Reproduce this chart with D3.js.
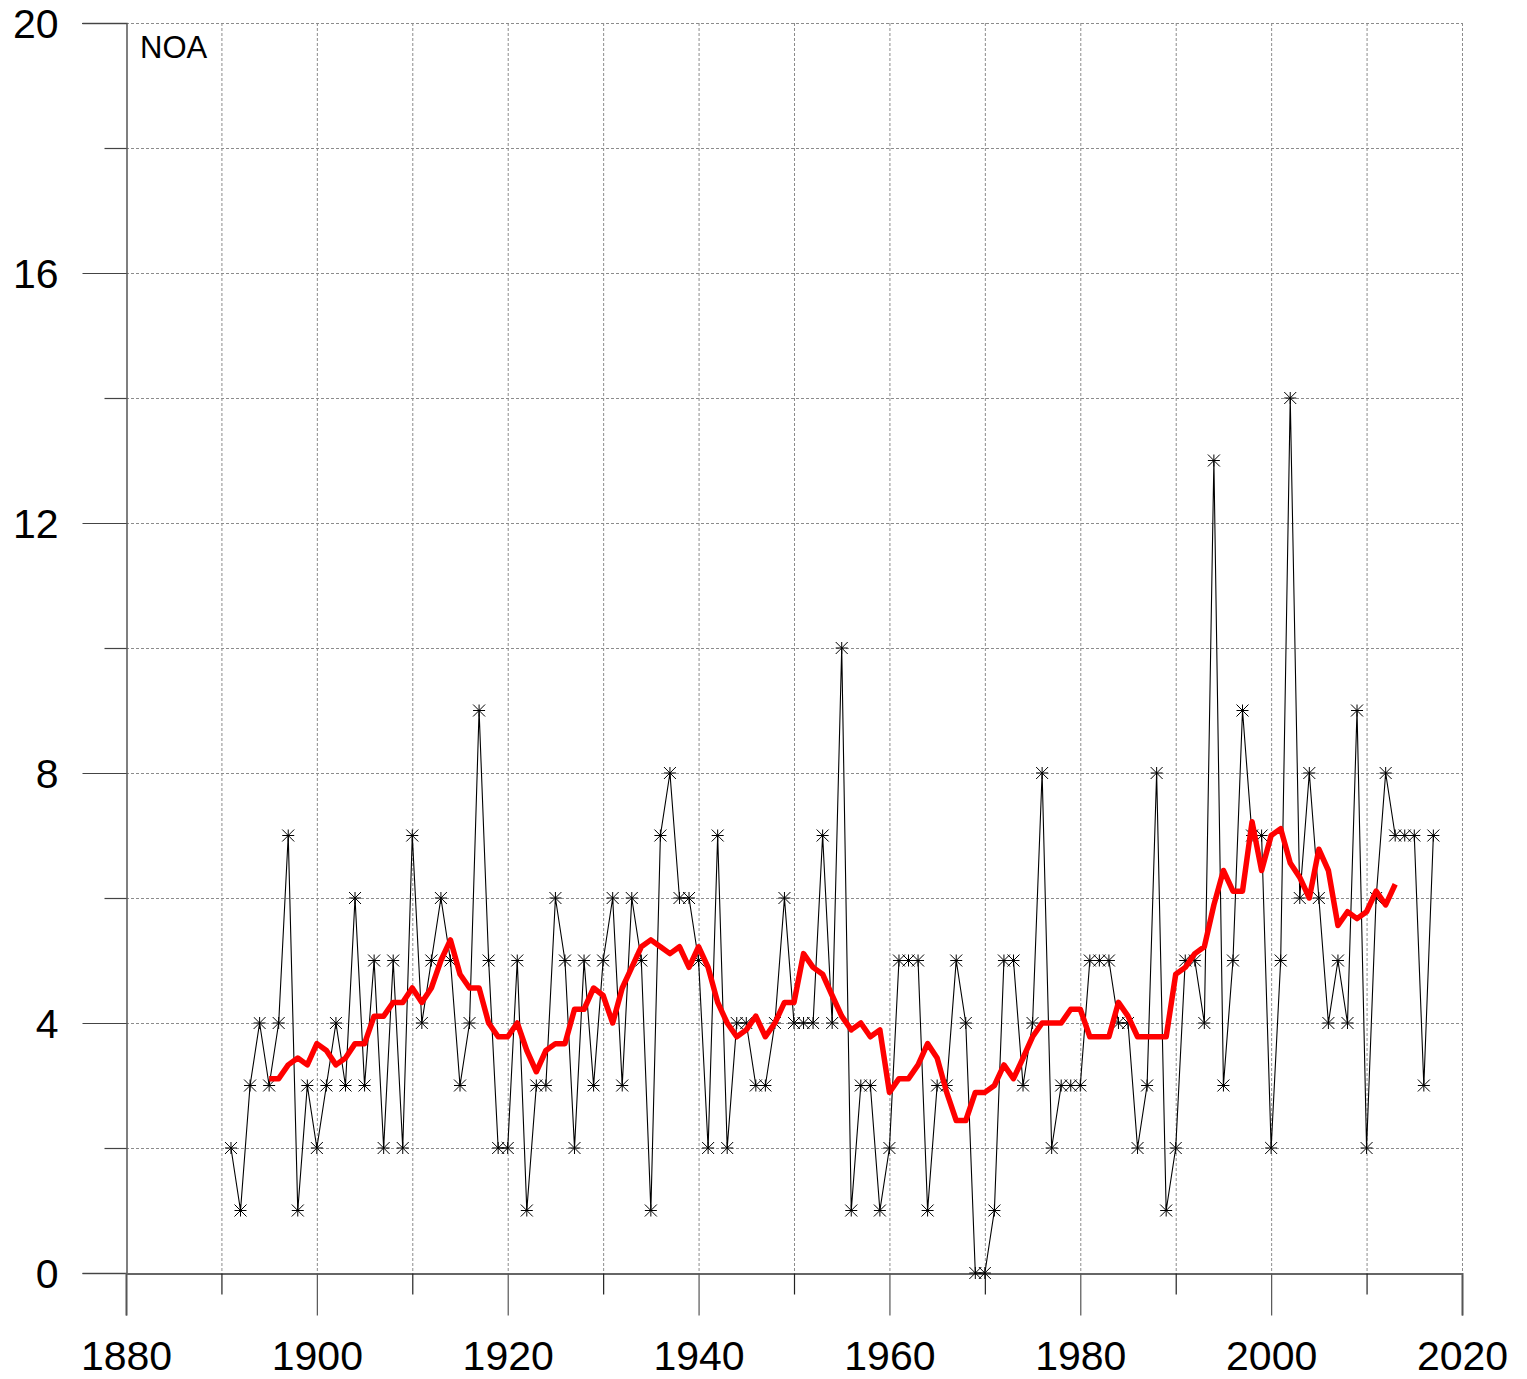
<!DOCTYPE html>
<html>
<head>
<meta charset="utf-8">
<script src="https://d3js.org/d3.v7.min.js"></script>
<style>
  body { margin: 0; background: #fff; }
  svg text { font-family: "Liberation Sans", Arial, sans-serif; fill: #000; }
</style>
</head>
<body>
<div id="chart"></div>
<script>
// Data
var startYear = 1891;
var counts = [2,1,3,4,3,4,7,1,3,2, 3,4,3,6,3,5,2,5,2,7, 4,5,6,5,3,4,9,5,2,2,
	5,1,3,3,6,5,2,5,3,5, 6,3,6,5,1,7,8,6,6,5, 2,7,2,4,4,3,3,4,6,4,
	4,4,7,4,10,1,3,3,1,2, 5,5,5,1,3,3,5,4,0,0, 1,5,5,3,4,8,2,3,3,3,
	5,5,5,4,4,2,3,8,1,2, 5,5,4,13,3,5,9,7,7,2, 5,14,6,8,6,4,5,4,9,2,
	6,8,7,7,7,3,7];

var meanStart = 1895;
var mean9 = [3.11,3.11,3.33,3.44,3.33,3.67,3.56,3.33,3.44,3.67,
	3.67,4.11,4.11,4.33,4.33,4.56,4.33,4.56,5.00,5.33,
	4.78,4.56,4.56,4.00,3.78,3.78,4.00,3.56,3.22,3.56,
	3.67,3.67,4.22,4.22,4.56,4.44,4.00,4.56,4.89,5.22,
	5.33,5.22,5.11,5.22,4.89,5.22,4.89,4.33,4.00,3.78,
	3.89,4.11,3.78,4.00,4.33,4.33,5.11,4.89,4.78,4.44,
	4.11,3.89,4.00,3.78,3.89,2.89,3.11,3.11,3.33,3.67,
	3.44,2.89,2.44,2.44,2.89,2.89,3.00,3.33,3.11,3.44,
	3.78,4.00,4.00,4.00,4.22,4.22,3.78,3.78,3.78,4.33,
	4.11,3.78,3.78,3.78,3.78,4.78,4.89,5.11,5.22,5.89,
	6.44,6.11,6.11,7.22,6.44,7.00,7.11,6.56,6.33,6.00,
	6.78,6.44,5.56,5.78,5.67,5.78,6.11,5.89,6.22];

var xLabels = [1880,1900,1920,1940,1960,1980,2000,2020];
var yLabels = [0,4,8,12,16,20];
var seriesName = "NOA";

// Globals
var width = 1527;
var height = 1379;
var svg = d3.select("#chart")
	.append("svg")
	.attr("width", width)
	.attr("height", height);

var x = d3.scaleLinear().domain([1880, 2020]).range([126, 1462]);
var y = d3.scaleLinear().domain([0, 20]).range([1273, 23]);

var pts = counts.map(function(v, i) { return {yr: startYear + i, v: v}; });
var avg = mean9.map(function(v, i) { return {yr: meanStart + i, v: v}; });

// grid
var grid = svg.append("g")
	.attr("stroke", "#8c8c8c")
	.attr("stroke-width", 1)
	.attr("stroke-dasharray", "3,2");

grid.selectAll(".gx")
	.data(d3.range(1890, 2021, 10))
	.enter().append("line")
		.attr("x1", function(d) { return x(d) + 0.5; })
		.attr("x2", function(d) { return x(d) + 0.5; })
		.attr("y1", y(20))
		.attr("y2", y(0));

grid.selectAll(".gy")
	.data(d3.range(2, 21, 2))
	.enter().append("line")
		.attr("x1", x(1880))
		.attr("x2", x(2020))
		.attr("y1", function(d) { return y(d) + 0.5; })
		.attr("y2", function(d) { return y(d) + 0.5; });

// axes
var yAxis = d3.axisLeft(y)
	.tickValues(yLabels)
	.tickSize(44)
	.tickPadding(24)
	.tickFormat(d3.format("d"));

var gy = svg.append("g")
	.attr("transform", "translate(126.5,0)")
	.call(yAxis);
gy.select(".domain").attr("stroke", "#555").attr("stroke-width", 1.5);
gy.selectAll(".tick line").attr("stroke", "#444").attr("stroke-width", 1.2);
gy.selectAll(".tick text").attr("font-size", 41).attr("dy", "0.36em");

gy.selectAll(".minor")
	.data(d3.range(2, 20, 4))
	.enter().append("line")
		.attr("x1", -22)
		.attr("x2", 0)
		.attr("y1", function(d) { return y(d) + 0.5; })
		.attr("y2", function(d) { return y(d) + 0.5; })
		.attr("stroke", "#444")
		.attr("stroke-width", 1.2);

var xAxis = d3.axisBottom(x)
	.tickValues(xLabels)
	.tickSize(42)
	.tickPadding(25)
	.tickFormat(d3.format("d"));

var gx = svg.append("g")
	.attr("transform", "translate(0,1273.5)")
	.call(xAxis);
gx.select(".domain").attr("stroke", "#666").attr("stroke-width", 2);
gx.selectAll(".tick line").attr("stroke", "#555").attr("stroke-width", 1.2);
gx.selectAll(".tick text").attr("font-size", 41);

gx.selectAll(".minor")
	.data(d3.range(1890, 2020, 20))
	.enter().append("line")
		.attr("x1", function(d) { return x(d) + 0.5; })
		.attr("x2", function(d) { return x(d) + 0.5; })
		.attr("y1", 0)
		.attr("y2", 21)
		.attr("stroke", "#222")
		.attr("stroke-width", 1.2);

// left extension of the 20 line
svg.append("line")
	.attr("x1", 82).attr("x2", 126)
	.attr("y1", y(20) + 0.5).attr("y2", y(20) + 0.5)
	.attr("stroke", "#444");

// annual counts
var line = d3.line()
	.x(function(d) { return x(d.yr); })
	.y(function(d) { return y(d.v); });

svg.append("path")
	.datum(pts)
	.attr("fill", "none")
	.attr("stroke", "#000")
	.attr("stroke-width", 1.1)
	.attr("d", line);

var r = 6;
var star = "M" + (-r) + ",0H" + r + "M0," + (-r) + "V" + r +
	"M" + (-r) + "," + (-r) + "L" + r + "," + r +
	"M" + (-r) + "," + r + "L" + r + "," + (-r);

svg.selectAll(".pt")
	.data(pts)
	.enter().append("path")
		.attr("class", "pt")
		.attr("transform", function(d) { return "translate(" + x(d.yr) + "," + y(d.v) + ")"; })
		.attr("d", star)
		.attr("stroke", "#000")
		.attr("stroke-width", 1)
		.attr("fill", "none");

// 9-year running mean
svg.append("path")
	.datum(avg)
	.attr("fill", "none")
	.attr("stroke", "#ff0000")
	.attr("stroke-width", 5.5)
	.attr("stroke-linejoin", "round")
	.attr("d", line);

svg.append("text")
	.attr("x", 140)
	.attr("y", 58)
	.attr("font-size", 31)
	.text(seriesName);
</script>
</body>
</html>
